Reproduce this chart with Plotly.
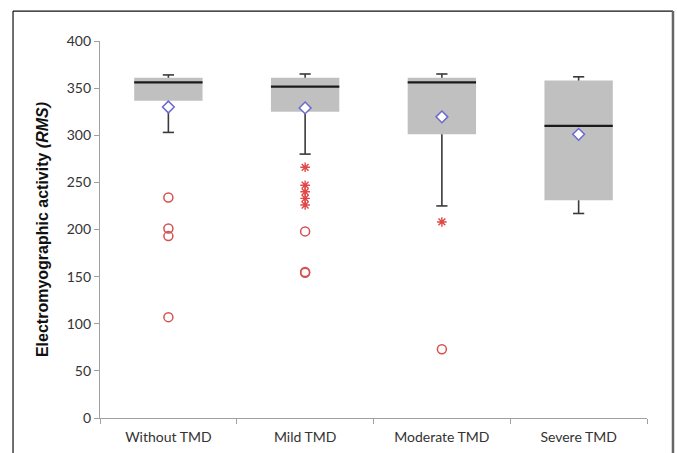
import plotly.graph_objects as go

categories = ["Without TMD", "Mild TMD", "Moderate TMD", "Severe TMD"]
whisker_low = [303, 280, 225, 217]
q1 = [336.5, 325, 301, 231]
median = [356, 351.5, 356, 310]
q3 = [361, 361, 361, 358]
whisker_high = [364, 365, 365, 362]
mean = [330, 329, 319.5, 301]

circle_groups = ["Without TMD", "Without TMD", "Without TMD", "Without TMD",
                 "Mild TMD", "Mild TMD", "Mild TMD", "Moderate TMD"]
circle_values = [234, 201, 193, 107, 198, 155, 154, 73]
star_groups = ["Mild TMD", "Mild TMD", "Mild TMD", "Mild TMD", "Mild TMD", "Moderate TMD"]
star_values = [266, 247, 240, 233, 226, 208]

y_ticks = [0, 50, 100, 150, 200, 250, 300, 350, 400]

pos = {c: i for i, c in enumerate(categories)}
xs = list(range(len(categories)))
half = 0.25

fig = go.Figure()

# boxes (q1 -> q3)
fig.add_trace(go.Bar(
    x=xs, y=[b - a for a, b in zip(q1, q3)], base=q1, width=2 * half,
    marker=dict(color="#c0c0c0", line=dict(width=0)), hoverinfo="skip"))

# whiskers
wx, wy = [], []
for i in xs:
    wx += [i, i, None, i, i, None]
    wy += [q3[i], whisker_high[i], None, q1[i], whisker_low[i], None]
fig.add_trace(go.Scatter(x=wx, y=wy, mode="lines",
                         line=dict(color="#3a3a3a", width=1.6), hoverinfo="skip"))
# whisker caps
fig.add_trace(go.Scatter(
    x=xs + xs, y=whisker_high + whisker_low, mode="markers",
    marker=dict(symbol="line-ew", size=8, line=dict(color="#3a3a3a", width=1.6)),
    hoverinfo="skip"))

# medians
mx, my = [], []
for i in xs:
    mx += [i - half, i + half, None]
    my += [median[i], median[i], None]
fig.add_trace(go.Scatter(x=mx, y=my, mode="lines",
                         line=dict(color="#1a1a1a", width=2.2), hoverinfo="skip"))

# means
fig.add_trace(go.Scatter(
    x=xs, y=mean, mode="markers",
    marker=dict(symbol="diamond", size=9, color="white",
                line=dict(color="#6a6ad0", width=1.5))))

# outliers
fig.add_trace(go.Scatter(
    x=[pos[g] for g in circle_groups], y=circle_values, mode="markers",
    marker=dict(symbol="circle-open", size=9, color="#d65050",
                line=dict(width=1.5))))
fig.add_trace(go.Scatter(
    x=[pos[g] for g in star_groups], y=star_values, mode="markers",
    marker=dict(symbol="asterisk-open", size=8, color="#e04848",
                line=dict(width=1.4, color="#e04848"))))

# image frame (left/top black, right grey)
fig.add_shape(type="line", xref="paper", yref="paper", x0=-0.159, x1=-0.159,
              y0=-0.2, y1=1.0794, line=dict(color="#111111", width=1.2))
fig.add_shape(type="line", xref="paper", yref="paper", x0=-0.159, x1=1.0475,
              y0=1.0794, y1=1.0794, line=dict(color="#111111", width=1.2))
fig.add_shape(type="line", xref="paper", yref="paper", x0=1.0475, x1=1.0475,
              y0=1.0794, y1=-0.2, line=dict(color="#666666", width=2.5))

fig.update_layout(
    width=677, height=453,
    margin=dict(l=100, r=30, t=41, b=35, autoexpand=False),
    paper_bgcolor="white", plot_bgcolor="white",
    showlegend=False,
    font=dict(family="Lato, Open Sans, sans-serif", size=14, color="#333333"),
    xaxis=dict(
        range=[-0.5, 3.5], tickmode="array", tickvals=xs, ticktext=categories,
        ticks="", showgrid=False, zeroline=False, automargin=False,
        showline=True, linecolor="#a0a0a0", linewidth=1.2,
        ticklabelstandoff=6,
        minor=dict(tickmode="array", tickvals=[-0.5, 0.5, 1.5, 2.5, 3.5],
                   ticks="outside", ticklen=5, tickcolor="#a0a0a0", tickwidth=1,
                   showgrid=False),
        tickfont=dict(family="Lato, Open Sans, sans-serif", size=14, color="#333333")),
    yaxis=dict(
        range=[0, 400], tickmode="array", tickvals=y_ticks,
        ticks="outside", ticklen=5, tickcolor="#a0a0a0",
        showgrid=False, zeroline=False, automargin=False,
        showline=True, linecolor="#a0a0a0", linewidth=1.2,
        tickfont=dict(family="Lato, Open Sans, sans-serif", size=14, color="#333333"),
        title=dict(text="Electromyographic activity <i>(RMS)</i>",
                   font=dict(family="Liberation Sans, Arial, sans-serif", size=16,
                             color="#111111", weight="bold"),
                   standoff=14)),
)

fig.write_html("out.html",
               config={"displayModeBar": False},
               post_script="document.body.style.margin='0';"
                           "document.body.style.overflow='hidden';")
